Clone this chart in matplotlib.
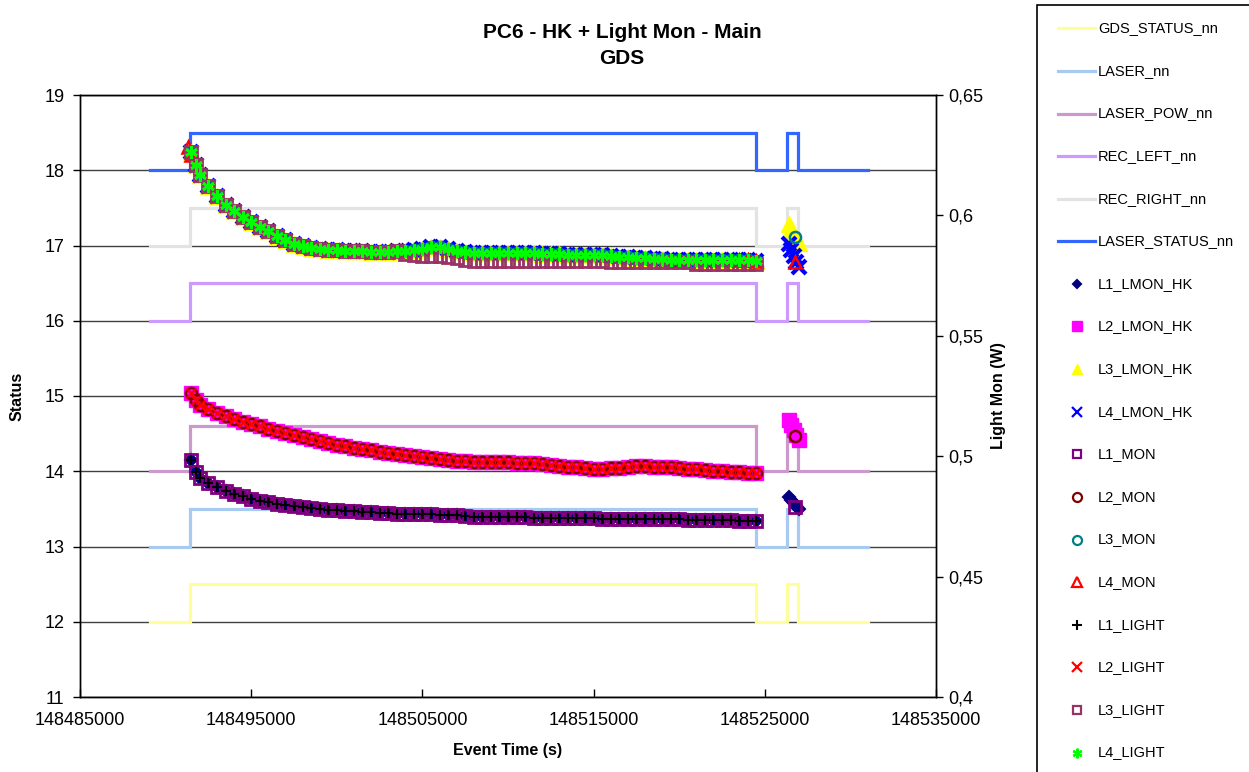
import matplotlib
matplotlib.use("Agg")
import matplotlib.pyplot as plt
import numpy as np
from matplotlib.lines import Line2D
from matplotlib.patches import Rectangle

plt.rcParams['font.family'] = ['Liberation Sans', 'DejaVu Sans']

# ---------------- data ----------------
STATUS_T = [148489100, 148491400, 148524500, 148526300, 148526950, 148531000]
GDS_STATUS_nn = [12, 12.5, 12, 12.5, 12, 12]
LASER_nn = [13, 13.5, 13, 13.5, 13, 13]
LASER_POW_nn = [14, 14.6, 14, 14.6, 14, 14]
REC_LEFT_nn = [16, 16.5, 16, 16.5, 16, 16]
REC_RIGHT_nn = [17, 17.5, 17, 17.5, 17, 17]
LASER_STATUS_nn = [18, 18.5, 18, 18.5, 18, 18]

TIMES = [148491500, 148491750,
         148492000, 148492500, 148493000, 148493500, 148494000, 148494500, 148495000, 148495500, 148496000, 148496500,
         148497000, 148497500, 148498000, 148498500, 148499000, 148499500, 148500000, 148500500, 148501000, 148501500,
         148502000, 148502500, 148503000, 148503500, 148504000, 148504500, 148505000, 148505500, 148506000, 148506500,
         148507000, 148507500, 148508000, 148508500, 148509000, 148509500, 148510000, 148510500, 148511000, 148511500,
         148512000, 148512500, 148513000, 148513500, 148514000, 148514500, 148515000, 148515500, 148516000, 148516500,
         148517000, 148517500, 148518000, 148518500, 148519000, 148519500, 148520000, 148520500, 148521000, 148521500,
         148522000, 148522500, 148523000, 148523500, 148524000, 148524500]

TOP = [0.6265, 0.6209,
       0.6168, 0.6122, 0.6081, 0.6043, 0.6018, 0.5993, 0.5972, 0.5952, 0.5935, 0.5914,
       0.5898, 0.5881, 0.5873, 0.5865, 0.5861, 0.5856, 0.5856, 0.5852, 0.5852, 0.5852,
       0.5848, 0.5848, 0.5848, 0.5852, 0.5852, 0.5856, 0.5861, 0.5869, 0.5869, 0.5861,
       0.5852, 0.5848, 0.5844, 0.5844, 0.5844, 0.5844, 0.5844, 0.5844, 0.5844, 0.5844,
       0.5840, 0.5840, 0.5840, 0.5836, 0.5836, 0.5836, 0.5836, 0.5836, 0.5832, 0.5827,
       0.5827, 0.5823, 0.5823, 0.5819, 0.5819, 0.5815, 0.5815, 0.5815, 0.5815, 0.5815,
       0.5815, 0.5815, 0.5815, 0.5815, 0.5815, 0.5811]

TOP_L3_LIGHT = [0.6265, 0.6209,
                0.6168, 0.6122, 0.6081, 0.6043, 0.6018, 0.5993, 0.5972, 0.5952, 0.5935, 0.5914,
                0.5898, 0.5881, 0.5873, 0.5865, 0.5861, 0.5856, 0.5856, 0.5852, 0.5852, 0.5852,
                0.5848, 0.5848, 0.5848, 0.5852, 0.5840, 0.5835, 0.5830, 0.5830, 0.5830, 0.5828,
                0.5823, 0.5815, 0.5810, 0.5810, 0.5810, 0.5810, 0.5810, 0.5810, 0.5810, 0.5810,
                0.5810, 0.5810, 0.5810, 0.5810, 0.5810, 0.5810, 0.5810, 0.5810, 0.5806, 0.5806,
                0.5806, 0.5806, 0.5806, 0.5806, 0.5806, 0.5806, 0.5806, 0.5806, 0.5800, 0.5800,
                0.5800, 0.5800, 0.5800, 0.5800, 0.5800, 0.5800]

MID = [0.5262, 0.5233,
       0.5213, 0.5198, 0.5180, 0.5166, 0.5154, 0.5144, 0.5135, 0.5125, 0.5115, 0.5106,
       0.5098, 0.5089, 0.5080, 0.5071, 0.5063, 0.5055, 0.5048, 0.5041, 0.5035, 0.5029,
       0.5024, 0.5019, 0.5015, 0.5011, 0.5006, 0.5002, 0.4998, 0.4994, 0.4990, 0.4986,
       0.4982, 0.4978, 0.4975, 0.4974, 0.4974, 0.4974, 0.4974, 0.4973, 0.4972, 0.4970,
       0.4968, 0.4965, 0.4961, 0.4957, 0.4954, 0.4951, 0.4948, 0.4947, 0.4949, 0.4953,
       0.4957, 0.4959, 0.4958, 0.4957, 0.4956, 0.4955, 0.4952, 0.4948, 0.4945, 0.4943,
       0.4940, 0.4938, 0.4936, 0.4934, 0.4932, 0.4930]

BOT = [0.4984, 0.4935,
       0.4910, 0.4890, 0.4872, 0.4857, 0.4845, 0.4833, 0.4824, 0.4816, 0.4809, 0.4803,
       0.4798, 0.4793, 0.4789, 0.4785, 0.4781, 0.4778, 0.4775, 0.4773, 0.4771, 0.4769,
       0.4767, 0.4765, 0.4763, 0.4762, 0.4761, 0.4760, 0.4759, 0.4758, 0.4757, 0.4756,
       0.4754, 0.4752, 0.4749, 0.4748, 0.4748, 0.4747, 0.4747, 0.4746, 0.4746, 0.4745,
       0.4745, 0.4744, 0.4744, 0.4743, 0.4743, 0.4742, 0.4742, 0.4741, 0.4741, 0.4740,
       0.4740, 0.4739, 0.4739, 0.4739, 0.4739, 0.4739, 0.4738, 0.4737, 0.4736, 0.4735,
       0.4734, 0.4733, 0.4733, 0.4732, 0.4732, 0.4731]

BUMP_T = [148526400, 148526550, 148526700, 148526850, 148527000]
L1_LMON_HK_BUMP = [0.4830, 0.4818, 0.4805, 0.4793, 0.4782]
L2_LMON_HK_BUMP = [0.5150, 0.5130, 0.5108, 0.5088, 0.5068]
L3_LMON_HK_BUMP = [0.5965, 0.5942, 0.5920, 0.5900, 0.5885]
L4_LMON_HK_BUMP = [0.5880, 0.5858, 0.5832, 0.5805, 0.5785]

SINGLE_T = [148526750]
L1_MON_BUMP = [0.4789]
L2_MON_BUMP = [0.5084]
L3_MON_BUMP = [0.5910]

L4_MON_T = [148491300, 148491500, 148523500, 148524000, 148524500, 148526750]
L4_MON_V = [0.6285, 0.6250, 0.5815, 0.5813, 0.5811, 0.5806]

X_TICKS = [148485000, 148495000, 148505000, 148515000, 148525000, 148535000]
X_TICK_LABELS = ['148485000', '148495000', '148505000', '148515000', '148525000', '148535000']
Y1_TICKS = [11, 12, 13, 14, 15, 16, 17, 18, 19]
Y2_TICKS = [0.40, 0.45, 0.50, 0.55, 0.60, 0.65]
Y2_TICK_LABELS = ['0,4', '0,45', '0,5', '0,55', '0,6', '0,65']

# ---------------- figure ----------------
W, H = 1249, 772
fig = plt.figure(figsize=(W / 100, H / 100), dpi=100)
ax = fig.add_axes([80 / W, 1 - 697 / H, 856 / W, 602 / H])
ax2 = ax.twinx()

line_series = [
    ('GDS_STATUS_nn', GDS_STATUS_nn, '#FFFF99'),
    ('LASER_nn', LASER_nn, '#A6CAF0'),
    ('LASER_POW_nn', LASER_POW_nn, '#CC99CC'),
    ('REC_LEFT_nn', REC_LEFT_nn, '#CC99FF'),
    ('REC_RIGHT_nn', REC_RIGHT_nn, '#E3E3E3'),
    ('LASER_STATUS_nn', LASER_STATUS_nn, '#3366FF'),
]
for lab, vals, col in line_series:
    ax.plot(STATUS_T, vals, drawstyle='steps-post', color=col, lw=2.3,
            solid_joinstyle='miter', label=lab)

cat = np.concatenate
# (label, times, values, plot style, legend marker size)
marker_series = [
    ('L1_LMON_HK', cat([TIMES, BUMP_T]), cat([BOT, L1_LMON_HK_BUMP]),
     dict(marker='D', mfc='#000080', mec='#000080', mew=1.5), 6.5, 4.5),
    ('L2_LMON_HK', cat([TIMES, BUMP_T]), cat([MID, L2_LMON_HK_BUMP]),
     dict(marker='s', mfc='#FF00FF', mec='#FF00FF', mew=1), 10, 6.5),
    ('L3_LMON_HK', cat([TIMES, BUMP_T]), cat([TOP, L3_LMON_HK_BUMP]),
     dict(marker='^', mfc='#FFFF00', mec='#FFFF00', mew=1), 11, 7),
    ('L4_LMON_HK', cat([TIMES, BUMP_T]), cat([TOP, L4_LMON_HK_BUMP]),
     dict(marker='x', mfc='none', mec='#0000FF', mew=3), 10, 6.5),
    ('L1_MON', cat([TIMES, SINGLE_T]), cat([BOT, L1_MON_BUMP]),
     dict(marker='s', mfc='none', mec='#800080', mew=2), 8.5, 6),
    ('L2_MON', cat([TIMES, SINGLE_T]), cat([MID, L2_MON_BUMP]),
     dict(marker='o', mfc='none', mec='#800000', mew=1.8), 8, 6.5),
    ('L3_MON', cat([TIMES, SINGLE_T]), cat([TOP, L3_MON_BUMP]),
     dict(marker='o', mfc='none', mec='#008080', mew=1.8), 8, 6.5),
    ('L4_MON', L4_MON_T, L4_MON_V,
     dict(marker='^', mfc='none', mec='#FF0000', mew=1.8), 9, 7),
    ('L1_LIGHT', TIMES, BOT,
     dict(marker='+', mfc='none', mec='#000000', mew=1.5), 7.5, 7),
    ('L2_LIGHT', TIMES, MID,
     dict(marker='x', mfc='none', mec='#FF0000', mew=1.8), 7, 6.5),
    ('L3_LIGHT', TIMES, TOP_L3_LIGHT,
     dict(marker='s', mfc='none', mec='#993366', mew=2), 8.5, 6),
    ('L4_LIGHT', TIMES, TOP,
     dict(marker=(6, 2, 0), mfc='none', mec='#00FF00', mew=2), 9, 7),
]
for lab, t, v, st, ms, _ in marker_series:
    ax2.plot(t, v, ls='none', label=lab, ms=ms, **st)

# axes formatting
ax.set_xlim(148485000, 148535000)
ax.set_ylim(11, 19)
ax2.set_ylim(0.4, 0.65)
ax.set_xticks(X_TICKS, labels=X_TICK_LABELS)
ax.set_yticks(Y1_TICKS)
ax2.set_yticks(Y2_TICKS, labels=Y2_TICK_LABELS)
ax.minorticks_off()
ax2.minorticks_off()

ax.yaxis.grid(True, color='#404040', lw=1.0)
ax.xaxis.grid(False)
ax.set_axisbelow(True)
for a in (ax, ax2):
    for s in a.spines.values():
        s.set_color('black')
        s.set_linewidth(1.0)

ax.tick_params(axis='x', direction='in', length=6, width=1, pad=11, labelsize=13)
ax.tick_params(axis='y', direction='out', length=5, width=1, pad=6, labelsize=13)
ax2.tick_params(axis='y', direction='out', length=5, width=1, pad=4, labelsize=13)

ax.set_xlabel('Event Time (s)', fontsize=11.5, fontweight='bold')
ax.xaxis.label.set_va('center')
ax.xaxis.set_label_coords(0.5, (697 - 750) / 602)
ax.set_ylabel('Status', fontsize=11.5, fontweight='bold')
ax.yaxis.label.set_va('center')
ax.yaxis.set_label_coords((17 - 80) / 856, 0.5)
ax2.set_ylabel('Light Mon (W)', fontsize=11.5, fontweight='bold', rotation=90)
ax2.yaxis.label.set_va('center')
ax2.yaxis.set_label_coords((998 - 80) / 856, 0.5)

fig.text(622 / W, 1 - 32 / H, 'PC6 - HK + Light Mon - Main', ha='center', va='center',
         fontsize=15, fontweight='bold')
fig.text(622 / W, 1 - 59 / H, 'GDS', ha='center', va='center',
         fontsize=15, fontweight='bold')

# ---------------- legend (manual, Excel-like) ----------------
fig.add_artist(Rectangle((1037 / W, -0.05), 0.5, 1.05 - 5 / H, transform=fig.transFigure,
                         fill=False, ec='black', lw=1.2))
handles = [(lab, 'line', col, None) for lab, _, col in line_series] + \
          [(lab, 'marker', st, lms) for lab, _, _, st, _, lms in marker_series]
for i, (lab, kind, st, lms) in enumerate(handles):
    yc = 1 - (28.3 + 42.6 * i) / H
    if kind == 'line':
        fig.add_artist(Line2D([1058 / W, 1095 / W], [yc, yc], transform=fig.transFigure,
                              color=st, lw=2.3))
    else:
        lst = dict(st)
        lst['mew'] = min(lst['mew'], 1.6)
        fig.add_artist(Line2D([1076.5 / W], [yc], transform=fig.transFigure, ls='none',
                              ms=lms, **lst))
    fig.text(1098 / W, yc, lab, ha='left', va='center', fontsize=10.5)

fig.savefig('out.png', dpi=100)
